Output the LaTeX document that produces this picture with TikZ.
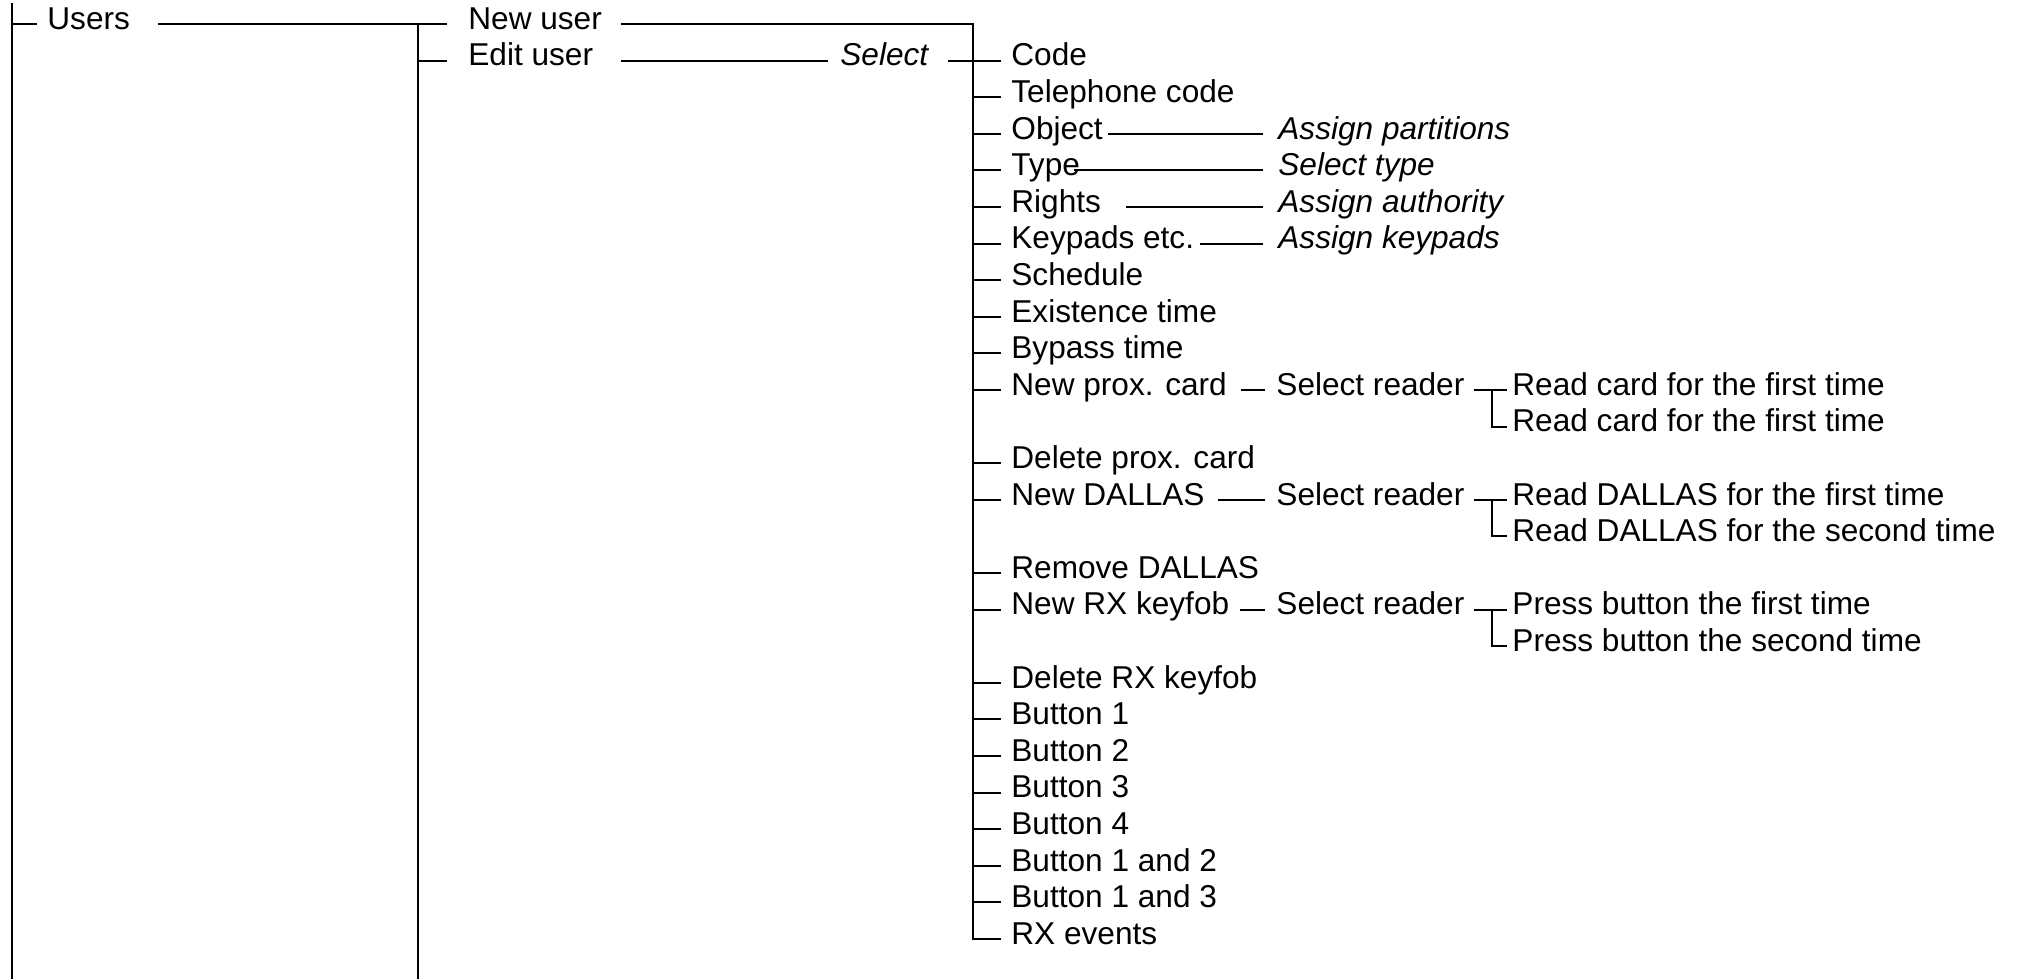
\documentclass[tikz,border=0pt]{standalone}
\usepackage{fontspec}
\setmainfont{Liberation Sans}
\usetikzlibrary{positioning}

\begin{document}
\begin{tikzpicture}[x=0.5pt,y=-0.5pt,
    item/.style={inner sep=0pt,font=\fontsize{15.8pt}{19pt}\selectfont},
    choice/.style={item,font=\fontsize{15.8pt}{19pt}\selectfont\itshape},
    tree/.style={draw,line width=1pt},
    stub/.style={tree,shorten >=5pt}]
      \useasboundingbox (0,0) rectangle (2037,979);
      \coordinate (spineA) at (12,3);
      \coordinate (spineA end) at (12,979);
      \coordinate (spineB) at (418,23.5);
      \coordinate (spineB end) at (418,979);
      \coordinate (spineC) at (973,24);
      \node[item,anchor=mid west] (users) at (47,24) {Users};
      \node[item,right=210.5pt of users.mid west,anchor=mid west] (newuser) {New user};
      \node[item,below=18.3pt of newuser.mid west,anchor=mid west] (edituser) {Edit user};
      \node[choice,right=186pt of edituser.mid west,anchor=mid west] (select) {Select};
      \node[item,right=85.5pt of select.mid west,anchor=mid west] (code) {Code};
      \node[item,below=18.3pt of code.mid west,anchor=mid west] (telcode) {Telephone code};
      \node[item,below=18.3pt of telcode.mid west,anchor=mid west] (object) {Object};
      \node[item,below=18.3pt of object.mid west,anchor=mid west] (type) {Type};
      \node[item,below=18.3pt of type.mid west,anchor=mid west] (rights) {Rights};
      \node[item,below=18.3pt of rights.mid west,anchor=mid west] (keypads) {Keypads etc.};
      \node[item,below=18.3pt of keypads.mid west,anchor=mid west] (schedule) {Schedule};
      \node[item,below=18.3pt of schedule.mid west,anchor=mid west] (existence) {Existence time};
      \node[item,below=18.3pt of existence.mid west,anchor=mid west] (bypass) {Bypass time};
      \node[item,below=18.3pt of bypass.mid west,anchor=mid west] (newprox) {New prox. card};
      \node[item,below=36.6pt of newprox.mid west,anchor=mid west] (delprox) {Delete prox. card};
      \node[item,below=18.3pt of delprox.mid west,anchor=mid west] (newdallas) {New DALLAS};
      \node[item,below=36.6pt of newdallas.mid west,anchor=mid west] (remdallas) {Remove DALLAS};
      \node[item,below=18.3pt of remdallas.mid west,anchor=mid west] (newrx) {New RX keyfob};
      \node[item,below=36.6pt of newrx.mid west,anchor=mid west] (delrx) {Delete RX keyfob};
      \node[item,below=18.3pt of delrx.mid west,anchor=mid west] (btna) {Button 1};
      \node[item,below=18.3pt of btna.mid west,anchor=mid west] (btnb) {Button 2};
      \node[item,below=18.3pt of btnb.mid west,anchor=mid west] (btnc) {Button 3};
      \node[item,below=18.3pt of btnc.mid west,anchor=mid west] (btnd) {Button 4};
      \node[item,below=18.3pt of btnd.mid west,anchor=mid west] (btnab) {Button 1 and 2};
      \node[item,below=18.3pt of btnab.mid west,anchor=mid west] (btnac) {Button 1 and 3};
      \node[item,below=18.3pt of btnac.mid west,anchor=mid west] (rxevents) {RX events};
      \node[choice,right=133.5pt of object.mid west,anchor=mid west] (assignpart) {Assign partitions};
      \node[choice,right=133.5pt of type.mid west,anchor=mid west] (seltype) {Select type};
      \node[choice,right=133.5pt of rights.mid west,anchor=mid west] (assignauth) {Assign authority};
      \node[choice,right=133.5pt of keypads.mid west,anchor=mid west] (assignkey) {Assign keypads};
      \node[item,right=132.5pt of newprox.mid west,anchor=mid west] (proxreader) {Select reader};
      \node[item,right=132.5pt of newdallas.mid west,anchor=mid west] (dallasreader) {Select reader};
      \node[item,right=132.5pt of newrx.mid west,anchor=mid west] (rxreader) {Select reader};
      \node[item,right=250.5pt of newprox.mid west,anchor=mid west] (proxread1) {Read card for the first time};
      \node[item,below=18.3pt of proxread1.mid west,anchor=mid west] (proxread2) {Read card for the first time};
      \node[item,right=250.5pt of newdallas.mid west,anchor=mid west] (dallasread1) {Read DALLAS for the first time};
      \node[item,below=18.3pt of dallasread1.mid west,anchor=mid west] (dallasread2) {Read DALLAS for the second time};
      \node[item,right=250.5pt of newrx.mid west,anchor=mid west] (rxpress1) {Press button the first time};
      \node[item,below=18.3pt of rxpress1.mid west,anchor=mid west] (rxpress2) {Press button the second time};
      \draw[tree] (spineA) -- (spineA end);
      \draw[tree] (spineB) -- (spineB end);
      \draw[stub] (users.mid west -| spineA) -- (users.mid west);
      \draw[tree,shorten <=13.75pt,shorten >=10.5pt] (users.mid east) -- (newuser.mid west);
      \draw[tree,shorten >=10.5pt] (edituser.mid west -| spineB) -- (edituser.mid west);
      \draw[tree,shorten <=9.5pt,shorten >=5pt] (newuser.mid east) -| (rxevents.mid west -| spineC) -- (rxevents.mid west);
      \draw[tree,shorten <=13.5pt,shorten >=6pt] (edituser.mid east) -- (select.mid west);
      \draw[tree,shorten <=9.5pt,shorten >=5pt] (select.mid east) -- (code.mid west);
      \draw[stub] (telcode.mid west -| spineC) -- (telcode.mid west);
      \draw[stub] (object.mid west -| spineC) -- (object.mid west);
      \draw[stub] (type.mid west -| spineC) -- (type.mid west);
      \draw[stub] (rights.mid west -| spineC) -- (rights.mid west);
      \draw[stub] (keypads.mid west -| spineC) -- (keypads.mid west);
      \draw[stub] (schedule.mid west -| spineC) -- (schedule.mid west);
      \draw[stub] (existence.mid west -| spineC) -- (existence.mid west);
      \draw[stub] (bypass.mid west -| spineC) -- (bypass.mid west);
      \draw[stub] (newprox.mid west -| spineC) -- (newprox.mid west);
      \draw[stub] (delprox.mid west -| spineC) -- (delprox.mid west);
      \draw[stub] (newdallas.mid west -| spineC) -- (newdallas.mid west);
      \draw[stub] (remdallas.mid west -| spineC) -- (remdallas.mid west);
      \draw[stub] (newrx.mid west -| spineC) -- (newrx.mid west);
      \draw[stub] (delrx.mid west -| spineC) -- (delrx.mid west);
      \draw[stub] (btna.mid west -| spineC) -- (btna.mid west);
      \draw[stub] (btnb.mid west -| spineC) -- (btnb.mid west);
      \draw[stub] (btnc.mid west -| spineC) -- (btnc.mid west);
      \draw[stub] (btnd.mid west -| spineC) -- (btnd.mid west);
      \draw[stub] (btnab.mid west -| spineC) -- (btnab.mid west);
      \draw[stub] (btnac.mid west -| spineC) -- (btnac.mid west);
      \draw[tree,shorten <=2.5pt,shorten >=7.5pt] (object.mid east) -- (assignpart.mid west);
      \draw[tree,shorten <=-3pt,shorten >=7.5pt] (type.mid east) -- (seltype.mid west);
      \draw[tree,shorten <=12.5pt,shorten >=7.5pt] (rights.mid east) -- (assignauth.mid west);
      \draw[tree,shorten <=2.5pt,shorten >=7.5pt] (keypads.mid east) -- (assignkey.mid west);
      \draw[tree,shorten <=7pt,shorten >=5.5pt] (newprox.mid east) -- (proxreader.mid west);
      \draw[tree,shorten <=6.5pt,shorten >=5.5pt] (newdallas.mid east) -- (dallasreader.mid west);
      \draw[tree,shorten <=5pt,shorten >=5.5pt] (newrx.mid east) -- (rxreader.mid west);
      \draw[tree,shorten <=4.5pt,shorten >=2.5pt] (proxreader.mid east) -- (proxread1.mid west);
      \draw[tree,shorten <=4.5pt,shorten >=2.5pt] (dallasreader.mid east) -- (dallasread1.mid west);
      \draw[tree,shorten <=4.5pt,shorten >=2.5pt] (rxreader.mid east) -- (rxpress1.mid west);
      \draw[tree,shorten >=2.5pt] ([xshift=-10pt]proxread1.mid west) |- (proxread2.mid west);
      \draw[tree,shorten >=2.5pt] ([xshift=-10pt]dallasread1.mid west) |- (dallasread2.mid west);
      \draw[tree,shorten >=2.5pt] ([xshift=-10pt]rxpress1.mid west) |- (rxpress2.mid west);
    \end{tikzpicture}
\end{document}
